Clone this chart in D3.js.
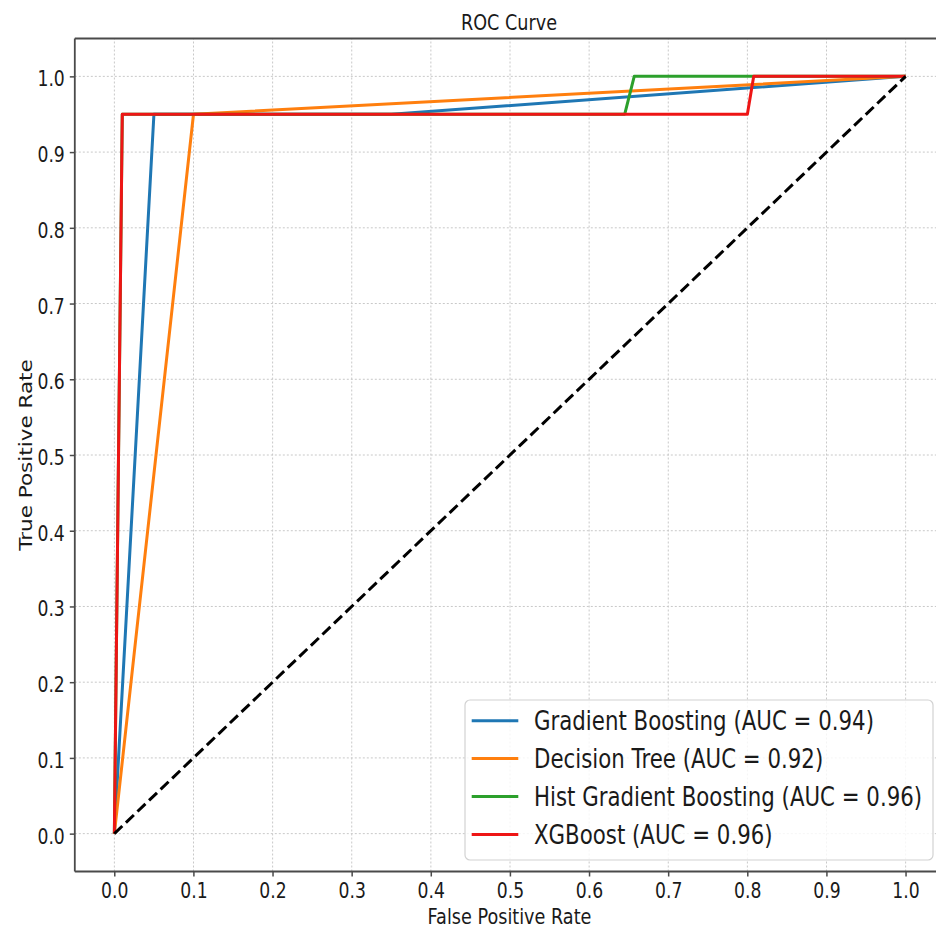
<!DOCTYPE html>
<html>
<head>
<meta charset="utf-8">
<script src="https://cdn.jsdelivr.net/npm/d3@7"></script>
<style>
  html, body { margin: 0; padding: 0; background: #ffffff; }
  svg { display: block; }
  text { font-family: "DejaVu Sans", sans-serif; fill: #1a1a1a; }
  .nss { vector-effect: non-scaling-stroke; }
</style>
</head>
<body>
<svg id="chart" width="936" height="929"></svg>
<script>
// ---------------- data ----------------
const models = ["Gradient Boosting", "Decision Tree", "Hist Gradient Boosting", "XGBoost"];
const aucValues = [0.94, 0.92, 0.96, 0.96];
const colors = ["#1f77b4", "#ff7f0e", "#2ca02c", "#ee1515"];

const gbFpr  = [0, 0.05, 0.35, 1.0];
const gbTpr  = [0, 0.95, 0.95, 1.0];
const dtFpr  = [0, 0.10, 1.0];
const dtTpr  = [0, 0.95, 1.0];
const hgbFpr = [0, 0.01, 0.645, 0.657, 1.0];
const hgbTpr = [0, 0.95, 0.95, 1.0, 1.0];
const xgbFpr = [0, 0.01, 0.80, 0.808, 1.0];
const xgbTpr = [0, 0.95, 0.95, 1.0, 1.0];
const chanceFpr = [0, 1];
const chanceTpr = [0, 1];

const tickValues = [0, 0.1, 0.2, 0.3, 0.4, 0.5, 0.6, 0.7, 0.8, 0.9, 1.0];
const titleText = "ROC Curve";
const xLabelText = "False Positive Rate";
const yLabelText = "True Positive Rate";

// ---------------- layout ----------------
const SX = 0.82; // horizontal compression of the whole picture
const svg = d3.select("#chart");
const root = svg.append("g").attr("transform", `scale(${SX},1)`);

const x = d3.scaleLinear().domain([-0.05, 1.05]).range([74.8 / SX, 945.2 / SX]);
const y = d3.scaleLinear().domain([-0.05, 1.05]).range([871.5, 38.5]);

// grid
const grid = root.append("g");
grid.selectAll("line.gx").data(tickValues).join("line")
  .attr("class", "nss")
  .attr("x1", d => x(d)).attr("x2", d => x(d))
  .attr("y1", y(-0.05)).attr("y2", y(1.05))
  .attr("stroke", "#c8c8c8").attr("stroke-width", 1)
  .attr("stroke-dasharray", "2,2");
grid.selectAll("line.gy").data(tickValues).join("line")
  .attr("class", "nss")
  .attr("x1", x(-0.05)).attr("x2", x(1.05))
  .attr("y1", d => y(d)).attr("y2", d => y(d))
  .attr("stroke", "#c8c8c8").attr("stroke-width", 1)
  .attr("stroke-dasharray", "2,2");

// curves
const series = [
  { fpr: gbFpr, tpr: gbTpr },
  { fpr: dtFpr, tpr: dtTpr },
  { fpr: hgbFpr, tpr: hgbTpr },
  { fpr: xgbFpr, tpr: xgbTpr }
];
const line = d3.line().x(d => x(d[0])).y(d => y(d[1]));
series.forEach((s, i) => {
  const pts = s.fpr.map((f, j) => [f, s.tpr[j]]);
  root.append("path")
    .attr("class", "nss")
    .attr("d", line(pts))
    .attr("fill", "none")
    .attr("stroke", colors[i])
    .attr("stroke-width", 3)
    .attr("stroke-linejoin", "round");
});

// chance line
root.append("path")
  .attr("class", "nss")
  .attr("d", line(chanceFpr.map((f, j) => [f, chanceTpr[j]])))
  .attr("fill", "none")
  .attr("stroke", "#000")
  .attr("stroke-width", 3)
  .attr("stroke-dasharray", "11,5");

// spines
const spineColor = "#4a4a4a";
const spines = root.append("g");
[[x(-0.05), y(-0.05), x(-0.05), y(1.05)],
 [x(1.05), y(-0.05), x(1.05), y(1.05)],
 [x(-0.05), y(-0.05), x(1.05), y(-0.05)],
 [x(-0.05), y(1.05), x(1.05), y(1.05)]].forEach(c => {
  spines.append("line").attr("class", "nss")
    .attr("x1", c[0]).attr("y1", c[1]).attr("x2", c[2]).attr("y2", c[3])
    .attr("stroke", spineColor).attr("stroke-width", 1.8);
});

// axes
const fmt = d3.format(".1f");
const xAxis = root.append("g")
  .attr("transform", `translate(0,${y(-0.05)})`)
  .call(d3.axisBottom(x).tickValues(tickValues).tickFormat(fmt).tickSize(5).tickPadding(6.5));
const yAxis = root.append("g")
  .attr("transform", `translate(${x(-0.05)},0)`)
  .call(d3.axisLeft(y).tickValues(tickValues).tickFormat(fmt).tickSize(5 / SX).tickPadding(5 / SX));
[xAxis, yAxis].forEach(a => {
  a.select(".domain").remove();
  a.selectAll(".tick line").attr("class", "nss").attr("stroke", spineColor).attr("stroke-width", 1.5);
  a.selectAll(".tick text")
    .attr("font-family", "DejaVu Sans, sans-serif")
    .attr("font-size", 21)
    .attr("fill", "#1a1a1a");
});
yAxis.selectAll(".tick text").attr("dy", "0.45em");

// title and labels
root.append("text")
  .attr("x", 509 / SX).attr("y", 30.5)
  .attr("text-anchor", "middle")
  .attr("font-size", 21.5)
  .text(titleText);
root.append("text")
  .attr("x", 509.5 / SX).attr("y", 924.5)
  .attr("text-anchor", "middle")
  .attr("font-size", 21.5)
  .text(xLabelText);
root.append("text")
  .attr("transform", `translate(${32 / SX},455) rotate(-90)`)
  .attr("text-anchor", "middle")
  .attr("font-size", 21.5)
  .text(yLabelText);

// legend
const legend = root.append("g");
legend.append("rect")
  .attr("class", "nss")
  .attr("x", 465 / SX).attr("y", 700)
  .attr("width", (933 - 465) / SX).attr("height", 160)
  .attr("rx", 5 / SX).attr("ry", 5)
  .attr("fill", "#ffffff").attr("fill-opacity", 0.82)
  .attr("stroke", "#d2d2d2").attr("stroke-width", 1.2);
models.forEach((m, i) => {
  const cy = 720.7 + i * 37.9;
  legend.append("line").attr("class", "nss")
    .attr("x1", 471.7 / SX).attr("x2", 518.3 / SX)
    .attr("y1", cy).attr("y2", cy)
    .attr("stroke", colors[i]).attr("stroke-width", 3);
  legend.append("text")
    .attr("x", 534 / SX).attr("y", cy)
    .attr("dy", "0.36em")
    .attr("font-size", 26)
    .text(`${m} (AUC = ${aucValues[i].toFixed(2)})`);
});
</script>
</body>
</html>
